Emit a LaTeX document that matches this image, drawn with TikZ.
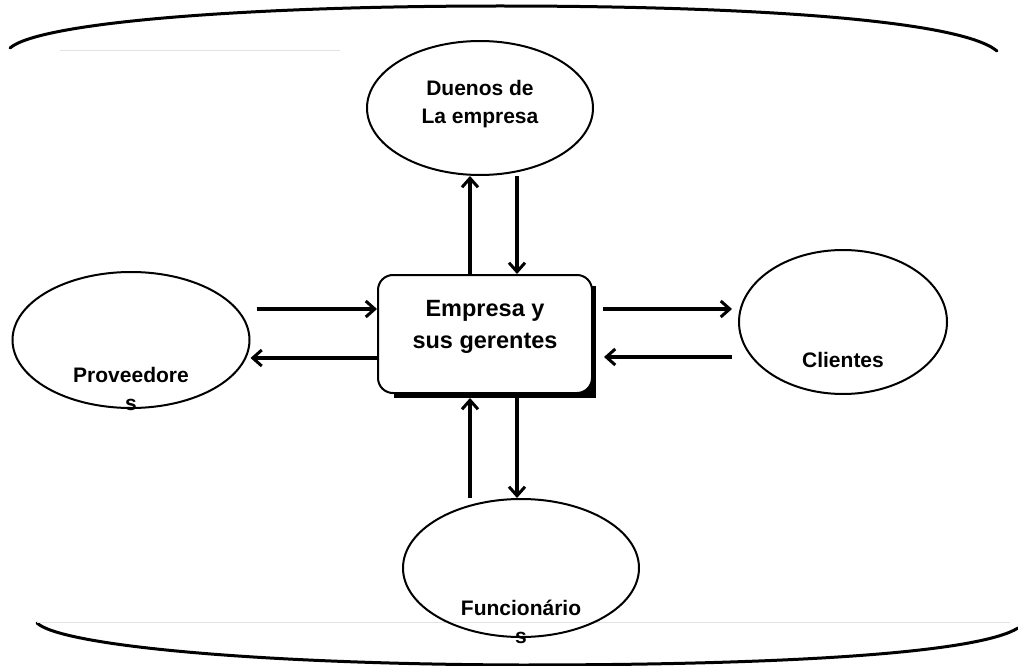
\documentclass[tikz,border=0pt]{standalone}
\usepackage{fontspec}
\setmainfont{Liberation Sans}
\usetikzlibrary{arrows.meta,calc,backgrounds,shapes.geometric}

\begin{document}
\begin{tikzpicture}[x=1pt,y=-1pt,
  party/.style={ellipse, draw, line width=2pt, inner sep=0pt},
  lbl/.style={font=\bfseries\fontsize{21}{28}\selectfont, align=center, inner sep=0pt},
  flow/.style={line width=3.3pt, -{Straight Barb[length=9pt,width=16pt,line width=3pt]}},
  frame/.style={line width=3pt, line cap=round},
  ghost/.style={gray!22, line width=0.8pt}]
\useasboundingbox (0,0) rectangle (1018,666);

% enclosing environment: upper and lower arcs
\draw[frame] (10,48) .. controls (40,22) and (250,6) .. (500,6)
                     .. controls (750,6) and (960,20) .. (997,51);
\draw[frame] (37,623) .. controls (60,645) and (250,664) .. (520,665)
                      .. controls (800,665) and (980,652) .. (1018,628);

% faint guide lines
\draw[ghost] (60,50) -- (340,50);
\draw[ghost] (37,622) -- (1010,622);

% central firm
\node[draw, line width=2pt, fill=white, rounded corners=15pt,
      minimum width=214pt, minimum height=118pt,
      label={[lbl, font=\bfseries\fontsize{23.5}{32}\selectfont, yshift=7pt]center:{Empresa y\\sus gerentes}}]
      (box) at (485,334) {};
\begin{scope}[on background layer]
  \fill ([xshift=17pt,yshift=-4pt]box.south west) rectangle ([xshift=3pt,yshift=-12pt]box.north east);
\end{scope}

% stakeholders
\node[party, minimum width=226pt, minimum height=134pt,
      label={[lbl, yshift=4.4pt]center:{Duenos de\\La empresa}}] (duenos) at (480,108) {};
\node[party, minimum width=237pt, minimum height=136pt,
      label={[lbl, yshift=-49pt]center:{Proveedore\\s}}] (prov) at (131,340) {};
\node[party, minimum width=208pt, minimum height=144pt,
      label={[lbl, yshift=-37.5pt]center:{Clientes}}] (cli) at (843,322) {};
\node[party, minimum width=236pt, minimum height=138pt,
      label={[lbl, yshift=-54pt]center:{Funcionário\\s}}] (func) at (521,568) {};

% owners
\draw[flow] ([xshift=-15pt]box.north) -- ([xshift=-15pt]box.north |- duenos.south);
\draw[flow] ([xshift=32pt]box.north |- duenos.south) -- ([xshift=32pt]box.north);

% employees
\draw[flow] ([xshift=-15pt]box.south |- func.north) -- ([xshift=-15pt,yshift=-4pt]box.south);
\draw[flow] ([xshift=32pt,yshift=-4pt]box.south) -- ([xshift=32pt]box.south |- func.north);

% suppliers
\draw[flow] ($([yshift=25pt]box.west -| prov.east)+(6,0)$) -- ([yshift=25pt]box.west);
\draw[flow] ([yshift=-24pt]box.west) -- ([yshift=-24pt]box.west -| prov.east);

% customers
\draw[flow] ($([yshift=25pt]box.east)+(10,0)$) -- ($([yshift=25pt]box.east -| cli.west)+(-6,0)$);
\draw[flow] ($([yshift=-23pt]box.east -| cli.west)+(-6,0)$) -- ($([yshift=-23pt]box.east)+(11,0)$);
\end{tikzpicture}
\end{document}
